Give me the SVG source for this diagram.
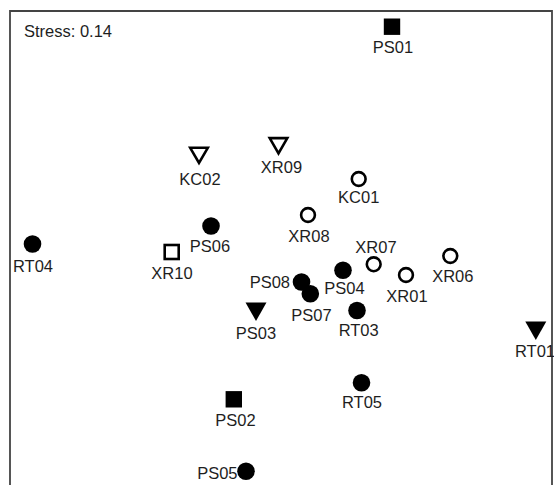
<svg xmlns="http://www.w3.org/2000/svg" width="554" height="485" viewBox="0 0 554 485">
<style>
text{font-family:"Liberation Sans",Arial,sans-serif;font-size:16.5px;fill:#1e1e1e;text-anchor:middle}
.fc{fill:#000}
.oc{fill:none;stroke:#000;stroke-width:2.6}
.fs{fill:#000}
.os{fill:none;stroke:#000;stroke-width:2.6}
.ft{fill:#000}
.ot{fill:none;stroke:#000;stroke-width:2.6;stroke-linejoin:miter}
</style>
<defs>
<circle id="fc" r="8.8" class="fc"/>
<circle id="oc" r="6.9" class="oc"/>
<rect id="fs" x="-8.2" y="-8.2" width="16.4" height="16.4" class="fs"/>
<rect id="os" x="-7" y="-7" width="14" height="14" class="os"/>
<path id="ft" d="M-10.5,-9 L10.5,-9 L0,9.5 Z" class="ft"/>
<path id="ot" d="M-8.8,-7.4 L8.8,-7.4 L0,7.8 Z" class="ot"/>
</defs>
<rect x="0" y="0" width="554" height="485" fill="#fff"/>
<path d="M10,495 L10,11 L552,11 L552,495" fill="none" stroke="#444" stroke-width="1.8"/>
<text x="24" y="37" style="text-anchor:start">Stress: 0.14</text>
<g id="connectors"/>
<g id="PS01"><use href="#fs" x="392" y="26.7"/><text x="393" y="53">PS01</text></g>
<g id="XR09"><use href="#ot" x="278.5" y="145.5"/><text x="281.5" y="173">XR09</text></g>
<g id="KC02"><use href="#ot" x="199" y="155.2"/><text x="200" y="185">KC02</text></g>
<g id="KC01"><use href="#oc" x="358.7" y="179"/><text x="358.7" y="203.3">KC01</text></g>
<g id="XR08"><use href="#oc" x="308" y="215"/><text x="309" y="241.5">XR08</text></g>
<g id="PS06"><use href="#fc" x="211" y="226"/><text x="210" y="251.7">PS06</text></g>
<g id="RT04"><use href="#fc" x="32.5" y="244"/><text x="33" y="271.5">RT04</text></g>
<g id="XR10"><use href="#os" x="171.7" y="252"/><text x="172" y="279.3">XR10</text></g>
<g id="XR07"><use href="#oc" x="373.7" y="264.3"/><text x="376" y="253.3">XR07</text></g>
<g id="XR06"><use href="#oc" x="450.3" y="256"/><text x="452.8" y="282.3">XR06</text></g>
<g id="XR01"><use href="#oc" x="406" y="275"/><text x="407" y="302.3">XR01</text></g>
<g id="PS04"><use href="#fc" x="343" y="270.3"/><text x="344.5" y="294.3">PS04</text></g>
<g id="PS08"><use href="#fc" x="301.5" y="282"/><text x="290" y="288" style="text-anchor:end">PS08</text></g>
<g id="PS07"><use href="#fc" x="310.3" y="293.8"/><text x="311.5" y="321">PS07</text></g>
<g id="RT03"><use href="#fc" x="357" y="310.5"/><text x="358.7" y="336">RT03</text></g>
<g id="PS03"><use href="#ft" x="256" y="311.5"/><text x="256" y="339">PS03</text></g>
<g id="RT01"><use href="#ft" x="535.8" y="330.5"/><text x="535" y="356.7">RT01</text></g>
<g id="RT05"><use href="#fc" x="361.5" y="382.8"/><text x="362" y="407.7">RT05</text></g>
<g id="PS02"><use href="#fs" x="233.8" y="399.3"/><text x="235.5" y="425.7">PS02</text></g>
<g id="PS05"><use href="#fc" x="246" y="471.3"/><text x="237.5" y="478.5" style="text-anchor:end">PS05</text></g>
</svg>
